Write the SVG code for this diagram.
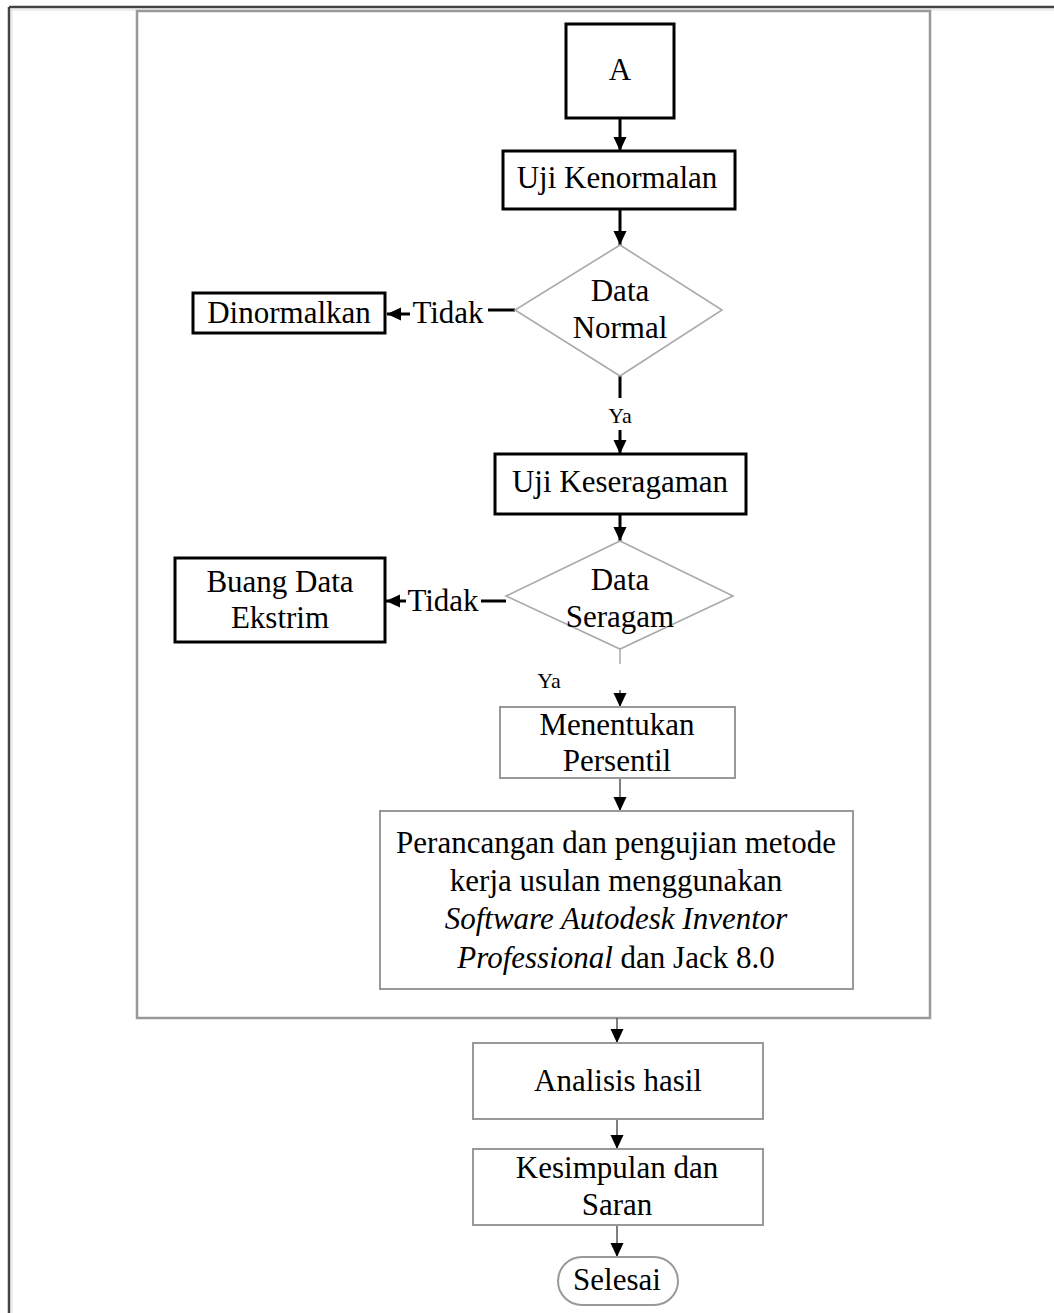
<svg xmlns="http://www.w3.org/2000/svg" width="1054" height="1313" viewBox="0 0 1054 1313">
<style>
text{font-family:"Liberation Serif","Times New Roman",serif;font-size:31px;fill:#000;text-anchor:middle}
.ya{font-size:22px}
.it{font-style:italic}
.bk{fill:#fff;stroke:#000;stroke-width:3}
.gr{fill:#fff;stroke:#999;stroke-width:2}
.dm{fill:#fff;stroke:#aaa;stroke-width:1.6}
.c{stroke:#000;stroke-width:3;fill:none}
.ct{stroke:#555;stroke-width:1.5;fill:none}
.ctg{stroke:#aaa;stroke-width:1.5;fill:none}
</style>
<defs>
<marker id="ah" markerUnits="userSpaceOnUse" markerWidth="14" markerHeight="14" viewBox="0 0 14 14" refX="14" refY="7" orient="auto">
<path d="M0,0.5 L14,7 L0,13.5 Z" fill="#000"/>
</marker>
</defs>
<rect width="1054" height="1313" fill="#fff"/>
<g id="frame">
<line x1="9" y1="7" x2="1054" y2="7" stroke="#444" stroke-width="2.5"/>
<line x1="9" y1="7" x2="9" y2="1313" stroke="#444" stroke-width="2.5"/>
<line x1="11" y1="10" x2="1054" y2="10" stroke="#ddd" stroke-width="1"/>
<line x1="12" y1="10" x2="12" y2="1313" stroke="#ddd" stroke-width="1"/>
<rect x="137" y="11" width="793" height="1007" fill="none" stroke="#999" stroke-width="2.5"/>
</g>
<g id="connectors">
<line class="c" x1="620" y1="118" x2="620" y2="151" marker-end="url(#ah)"/>
<line class="c" x1="620" y1="209" x2="620" y2="245" marker-end="url(#ah)"/>
<line class="c" x1="515" y1="310" x2="488" y2="310"/>
<line class="c" x1="410" y1="314" x2="387" y2="314" marker-end="url(#ah)"/>
<line class="c" x1="620" y1="376" x2="620" y2="398"/>
<line class="c" x1="620" y1="430" x2="620" y2="454" marker-end="url(#ah)"/>
<line class="c" x1="620" y1="514" x2="620" y2="541" marker-end="url(#ah)"/>
<line class="c" x1="506" y1="601" x2="481" y2="601"/>
<line class="c" x1="406" y1="601" x2="386" y2="601" marker-end="url(#ah)"/>
<line class="ctg" x1="620" y1="649" x2="620" y2="664"/>
<line class="ct" x1="620" y1="690" x2="620" y2="707" marker-end="url(#ah)"/>
<line class="ct" x1="620" y1="778" x2="620" y2="811" marker-end="url(#ah)"/>
<line class="ct" x1="617" y1="1018" x2="617" y2="1043" marker-end="url(#ah)"/>
<line class="ct" x1="617" y1="1119" x2="617" y2="1149" marker-end="url(#ah)"/>
<line class="ct" x1="617" y1="1225" x2="617" y2="1257" marker-end="url(#ah)"/>
<text x="448" y="323">Tidak</text>
<text class="ya" x="620" y="423">Ya</text>
<text x="443" y="611">Tidak</text>
<text class="ya" x="549" y="688">Ya</text>
</g>
<g id="nA">
<rect class="bk" x="566" y="24" width="108" height="94"/>
<text x="620" y="80">A</text>
</g>
<g id="nUjiKenormalan">
<rect class="bk" x="503" y="151" width="232" height="58"/>
<text x="617" y="188">Uji Kenormalan</text>
</g>
<g id="nDataNormal">
<polygon class="dm" points="620,245 722,310 620,376 515,310"/>
<text x="620" y="301">Data</text>
<text x="620" y="338">Normal</text>
</g>
<g id="nDinormalkan">
<rect class="bk" x="193" y="293" width="192" height="40"/>
<text x="289" y="323">Dinormalkan</text>
</g>
<g id="nUjiKeseragaman">
<rect class="bk" x="495" y="454" width="251" height="60"/>
<text x="620" y="492">Uji Keseragaman</text>
</g>
<g id="nDataSeragam">
<polygon class="dm" points="620,541 733,596 620,649 506,596"/>
<text x="620" y="590">Data</text>
<text x="620" y="627">Seragam</text>
</g>
<g id="nBuangData">
<rect class="bk" x="175" y="558" width="210" height="84"/>
<text x="280" y="592">Buang Data</text>
<text x="280" y="628">Ekstrim</text>
</g>
<g id="nMenentukan">
<rect class="gr" x="500" y="707" width="235" height="71"/>
<text x="617" y="735">Menentukan</text>
<text x="617" y="771">Persentil</text>
</g>
<g id="nPerancangan">
<rect class="gr" x="380" y="811" width="473" height="178"/>
<text x="616" y="853">Perancangan dan pengujian metode</text>
<text x="616" y="891">kerja usulan menggunakan</text>
<text class="it" x="616" y="929">Software Autodesk Inventor</text>
<text x="616" y="968"><tspan class="it">Professional</tspan> dan Jack 8.0</text>
</g>
<g id="nAnalisis">
<rect class="gr" x="473" y="1043" width="290" height="76"/>
<text x="618" y="1091">Analisis hasil</text>
</g>
<g id="nKesimpulan">
<rect class="gr" x="473" y="1149" width="290" height="76"/>
<text x="617" y="1178">Kesimpulan dan</text>
<text x="617" y="1215">Saran</text>
</g>
<g id="nSelesai">
<rect class="gr" x="558" y="1257" width="120" height="48" rx="24"/>
<text x="617" y="1290">Selesai</text>
</g>
</svg>
